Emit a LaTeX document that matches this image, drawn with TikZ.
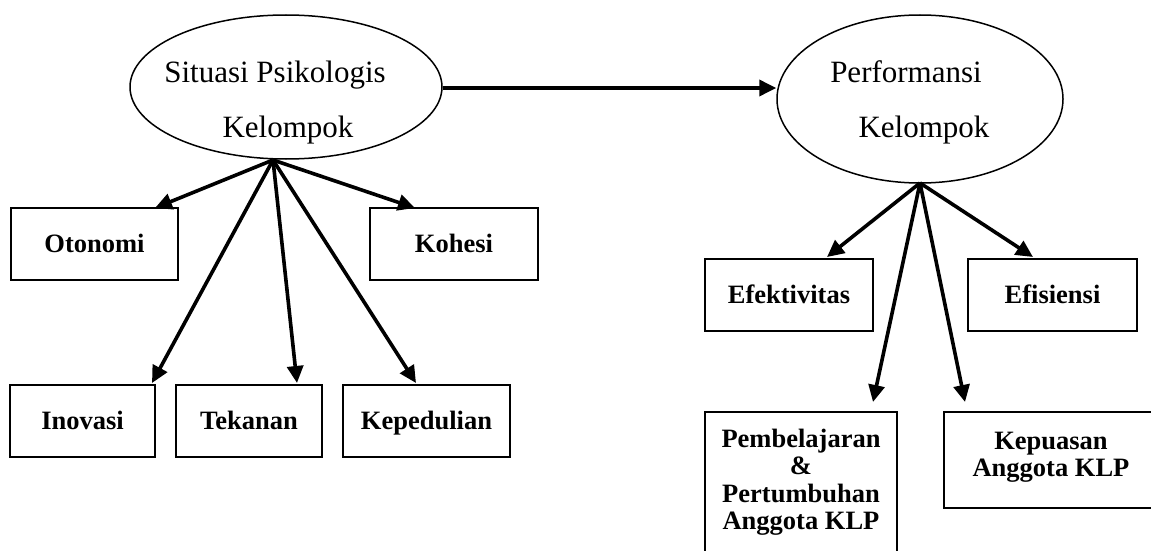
\documentclass[tikz,border=0pt]{standalone}
\usepackage{fontspec}
\setmainfont{Liberation Serif}
\usetikzlibrary{arrows.meta,shapes.geometric}
\begin{document}
\begin{tikzpicture}[x=1pt,y=-1pt,
  conn/.style={line width=3.6pt,-{Triangle[length=17pt,width=16pt]}},
  oval/.style={draw,ellipse,line width=1.5pt,inner sep=0pt},
  lbl/.style={font=\fontsize{31}{31}\selectfont,inner sep=0pt,anchor=base},
  box/.style={draw,line width=2pt,inner sep=0pt,font=\fontsize{26.5}{27.5}\selectfont\bfseries,align=center},
  sbox/.style={box,text height=17pt,text depth=0pt},
  btxt/.style={font=\fontsize{26.5}{27.5}\selectfont\bfseries,inner sep=0pt,align=center}]
\useasboundingbox (0,0) rectangle (1151,551);
\clip (0,0) rectangle (1151,551);
% ellipses
\node[oval,minimum width=312pt,minimum height=144pt] (sit) at (286,87) {};
\node[lbl] (sit1) at (275,82) {Situasi Psikologis};
\node[lbl] (sit2) at (288,137) {Kelompok};
\node[oval,minimum width=286pt,minimum height=168pt] (perf) at (920,99) {};
\node[lbl] (perf1) at (906,82) {Performansi};
\node[lbl] (perf2) at (924,137) {Kelompok};
% left boxes
\node[sbox,minimum width=167pt,minimum height=72pt] (oto) at (94.5,244) {Otonomi};
\node[sbox,minimum width=168pt,minimum height=72pt] (koh) at (454,244) {Kohesi};
\node[sbox,minimum width=145pt,minimum height=72pt] (ino) at (82.5,421) {Inovasi};
\node[sbox,minimum width=146pt,minimum height=72pt] (tek) at (249,421) {Tekanan};
\node[sbox,minimum width=167pt,minimum height=72pt] (kep) at (426.5,421) {Kepedulian};
% right boxes
\node[sbox,minimum width=168pt,minimum height=72pt] (efk) at (789,295) {Efektivitas};
\node[sbox,minimum width=169pt,minimum height=72pt] (efs) at (1052.5,295) {Efisiensi};
\node[box,minimum width=192pt,minimum height=188pt] (pem) at (801,506) {};
\node[btxt] (pemt) at (801,482) {Pembelajaran\\\&\\Pertumbuhan\\Anggota KLP};
\node[box,minimum width=216pt,minimum height=96pt] (kpu) at (1052,460) {};
\node[btxt] (kput) at (1051,457) {Kepuasan\\Anggota KLP};
% source points and tips
\coordinate (s1) at (273,160);
\coordinate (s2) at (920,183);
\coordinate (tOto) at (155,208);
\coordinate (tKoh) at (415,208);
\coordinate (tIno) at (152,383);
\coordinate (tTek) at (297,383);
\coordinate (tKep) at (416,383);
\coordinate (tEfk) at (827,257);
\coordinate (tEfs) at (1033,257);
\coordinate (tPem) at (873,402);
\coordinate (tKpu) at (965,402);
% connectors
\draw[conn] (sit.east |- 0,88) -- (perf.west |- 0,88);
\draw[conn] (s1) -- (tOto);
\draw[conn] (s1) -- (tKoh);
\draw[conn] (s1) -- (tIno);
\draw[conn] (s1) -- (tTek);
\draw[conn] (s1) -- (tKep);
\draw[conn] (s2) -- (tEfk);
\draw[conn] (s2) -- (tEfs);
\draw[conn] (s2) -- (tPem);
\draw[conn] (s2) -- (tKpu);
\end{tikzpicture}
\end{document}
